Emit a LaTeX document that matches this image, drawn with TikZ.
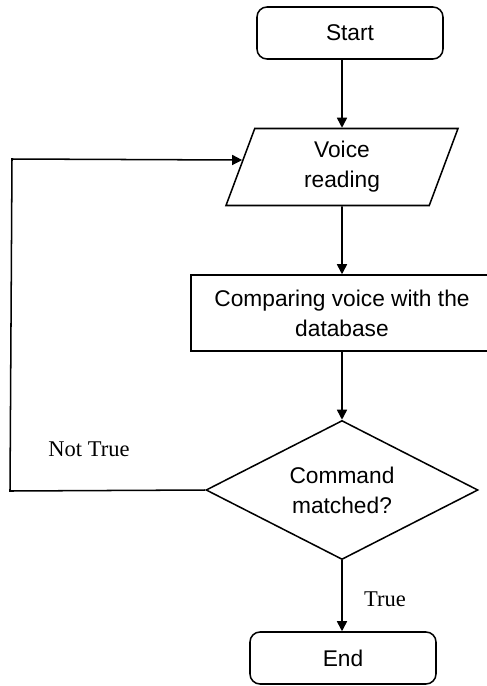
\documentclass[tikz,border=0pt]{standalone}
\usepackage{fontspec}
\setmainfont{Liberation Sans}
\newfontfamily\notefont{Liberation Serif}
\usetikzlibrary{arrows.meta, shapes.geometric}

\begin{document}
\begin{tikzpicture}[x=0.03cm, y=-0.03cm,
    every node/.style={font=\fontsize{19.4}{25.6}\selectfont, align=center},
    terminal/.style={draw, line width=1.3pt, rounded corners=0.3cm,
      minimum width=5.58cm, minimum height=1.56cm},
    io/.style={draw, line width=1.3pt, trapezium, trapezium left angle=64,
      trapezium right angle=116, trapezium stretches body,
      minimum width=6.96cm, minimum height=2.31cm},
    process/.style={draw, line width=1.3pt, minimum width=9.06cm, minimum height=2.28cm},
    decision/.style={draw, line width=1.3pt, diamond, aspect=2,
      minimum width=8.16cm, minimum height=4.17cm, inner sep=0pt},
    note/.style={font=\notefont\fontsize{19.2}{24}\selectfont},
    flow/.style={line width=1.3pt, -{Triangle[length=0.3cm, width=0.3cm]}}]
  \clip (0,0) rectangle (487,686);

  % blocks, top to bottom
  \node[terminal] (start) at (350,33) {Start};
  \node[io] (read) at (342,167) {Voice\\reading};
  \node[process] (cmp) at (342,313) {Comparing voice with the\\database};
  \node[decision] (dec) at (342,490) {Command\\matched?};
  \node[terminal] (stop) at (343,658) {End};

  % branch labels
  \node[note] (no) at (89,449) {Not True};
  \node[note] (yes) at (385,599) {True};

  % main flow
  \draw[flow] (start.south -| read) -- (read);
  \draw[flow] (read) -- (cmp);
  \draw[flow] (cmp) -- (dec);
  \draw[flow] (dec.south) -- (dec.south |- stop.north);

  % back to reading when no match
  \coordinate (lb) at (10,491);
  \coordinate (lt) at (12,159);
  \draw[flow] (dec.west) -- (lb) -- (lt) -- (read.176);
\end{tikzpicture}
\end{document}
